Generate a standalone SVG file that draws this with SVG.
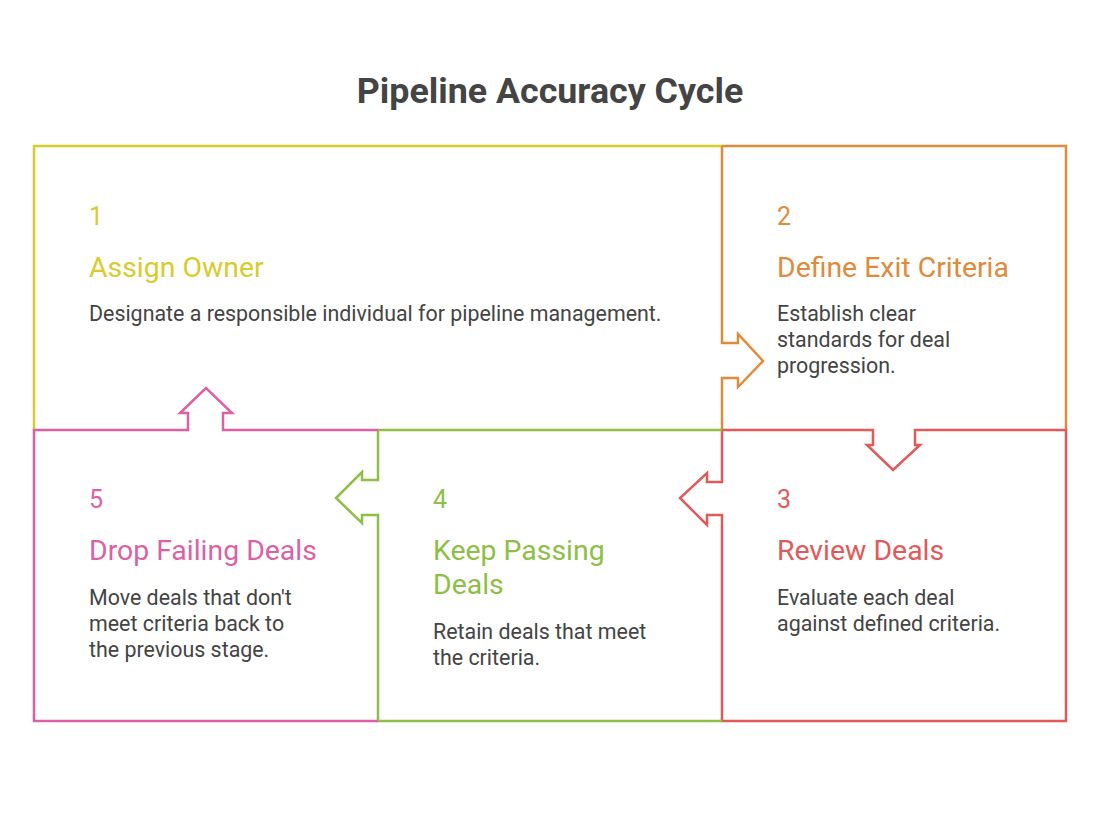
<svg xmlns="http://www.w3.org/2000/svg" width="1100" height="825" viewBox="0 0 1100 825">
<style>
.e{fill:none;stroke-width:2.5;stroke-linejoin:miter}
.n{font-family:Roboto,"Liberation Sans",sans-serif;font-size:25px}
.t{font-family:Roboto,"Liberation Sans",sans-serif;font-size:28.4px}
.b{font-family:Roboto,"Liberation Sans",sans-serif;font-size:21.4px;fill:#444}
</style>
<rect width="1100" height="825" fill="#fff"/>
<text x="550" y="103" text-anchor="middle" font-family="Roboto,'Liberation Sans',sans-serif" font-weight="bold" font-size="35.8" fill="#444">Pipeline Accuracy Cycle</text>
<g id="connectors">
<path class="e" stroke="#d8cb2c" d="M34,430 V146 H722"/>
</g>
<g id="node1">
<text class="n" x="89" y="225" fill="#d8cb2c">1</text>
<text class="t" x="89" y="277" fill="#d8cb2c">Assign Owner</text>
<text class="b" x="89" y="321">Designate a responsible individual for pipeline management.</text>
</g>
<g id="node2">
<path class="e" stroke="#e08a3a" d="M722,146 H1066 V430 M722,146 V343 H738 V334 L763,361 L738,387 V378 H722 V430"/>
<text class="n" x="777" y="225" fill="#e08a3a">2</text>
<text class="t" x="777" y="277" fill="#e08a3a">Define Exit Criteria</text>
<text class="b" x="777" y="321">Establish clear</text>
<text class="b" x="777" y="347">standards for deal</text>
<text class="b" x="777" y="373">progression.</text>
</g>
<g id="node3">
<path class="e" stroke="#e05a5a" d="M722,430 H873 V445 H867 L893,470 L920,445 H915 V430 H1066 V721 H722 V515 H707 V525 L680,498 L707,473 V482 H722 Z"/>
<text class="n" x="777" y="508" fill="#e05a5a">3</text>
<text class="t" x="777" y="560" fill="#e05a5a">Review Deals</text>
<text class="b" x="777" y="605">Evaluate each deal</text>
<text class="b" x="777" y="631">against defined criteria.</text>
</g>
<g id="node4">
<path class="e" stroke="#8dbe45" d="M722,430 H378 V480 H362 V472 L336,498 L362,523 V515 H378 V721 H722"/>
<text class="n" x="433" y="508" fill="#8dbe45">4</text>
<text class="t" x="433" y="560" fill="#8dbe45">Keep Passing</text>
<text class="t" x="433" y="594" fill="#8dbe45">Deals</text>
<text class="b" x="433" y="639">Retain deals that meet</text>
<text class="b" x="433" y="665">the criteria.</text>
</g>
<g id="node5">
<path class="e" stroke="#dd5fa4" d="M378,430 H223 V413 H232 L206,388 L180,413 H188 V430 H34 V721 H378"/>
<text class="n" x="89" y="508" fill="#dd5fa4">5</text>
<text class="t" x="89" y="560" fill="#dd5fa4">Drop Failing Deals</text>
<text class="b" x="89" y="605">Move deals that don't</text>
<text class="b" x="89" y="631">meet criteria back to</text>
<text class="b" x="89" y="657">the previous stage.</text>
</g>
</svg>
